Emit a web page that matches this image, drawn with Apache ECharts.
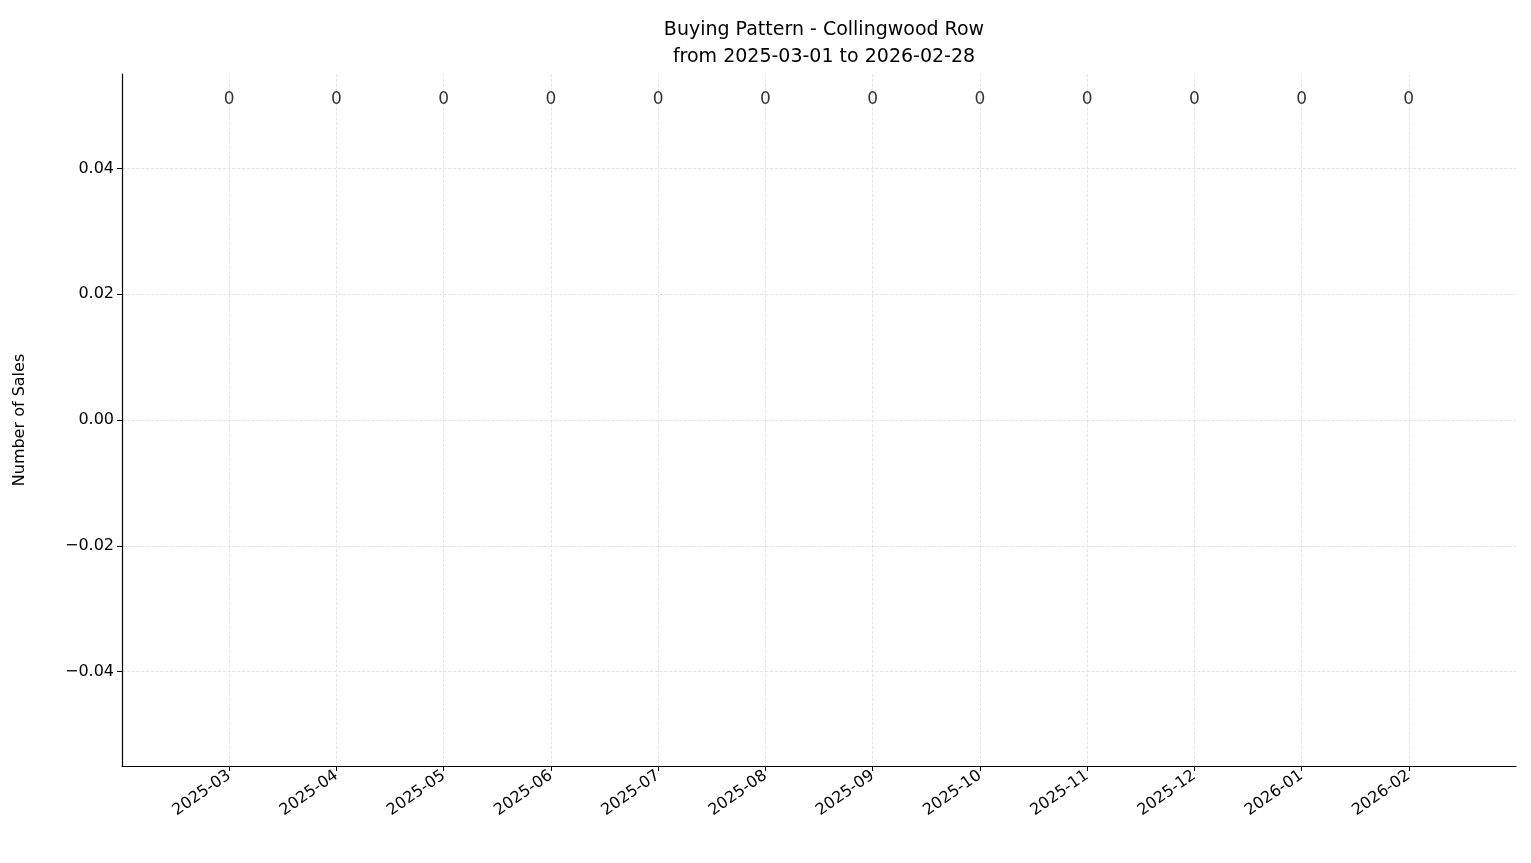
<!DOCTYPE html>
<html>
<head>
<meta charset="utf-8">
<script src="https://cdn.jsdelivr.net/npm/echarts@6/dist/echarts.min.js"></script>
<style>
  html, body { margin: 0; padding: 0; background: #fff; }
  #chart { width: 1531px; height: 863px; }
</style>
</head>
<body>
<div id="chart"></div>
<script>
const months = ['2025-03', '2025-04', '2025-05', '2025-06', '2025-07', '2025-08',
                '2025-09', '2025-10', '2025-11', '2025-12', '2026-01', '2026-02'];
const sales = [0, 0, 0, 0, 0, 0, 0, 0, 0, 0, 0, 0];
const yTicks = [-0.04, -0.02, 0, 0.02, 0.04];
const labelY = 0.051;

// pad with blank categories so the months sit one step in from each edge
const cats = [''].concat(months, ['']);
const inner = (i) => i > 0 && i < cats.length - 1;

const chart = echarts.init(document.getElementById('chart'));
const font = 'DejaVu Sans';

chart.setOption({
  animation: false,
  title: {
    text: 'Buying Pattern - Collingwood Row\nfrom 2025-03-01 to 2026-02-28',
    left: 819, top: 12, textAlign: 'center',
    textStyle: { fontFamily: font, fontSize: 19, fontWeight: 'normal', color: '#000', lineHeight: 27 }
  },
  grid: { left: 122, right: 15, top: 74, bottom: 97 },
  xAxis: {
    type: 'category', data: cats, boundaryGap: false,
    axisLine: { onZero: false, lineStyle: { color: '#000', width: 1.2 } },
    axisTick: { interval: (i) => inner(i), length: 5, lineStyle: { color: '#000' } },
    axisLabel: { interval: (i) => inner(i), rotate: 35, fontFamily: font, fontSize: 16, color: '#000', margin: 8 },
    splitLine: { show: true, interval: (i) => inner(i), lineStyle: { color: '#ddd', type: 'dashed', width: 0.8 } }
  },
  yAxis: {
    type: 'value', min: -0.055, max: 0.055,
    name: 'Number of Sales', nameLocation: 'middle', nameGap: 94,
    nameTextStyle: { fontFamily: font, fontSize: 16, color: '#000' },
    axisLine: { show: true, lineStyle: { color: '#000', width: 1.2 } },
    axisTick: { show: true, customValues: yTicks, length: 5, lineStyle: { color: '#000' } },
    axisLabel: { customValues: yTicks, fontFamily: font, fontSize: 16, color: '#000', margin: 8,
      formatter: (v) => v.toFixed(2).replace('-', '\u2212') },
    splitLine: { show: true, lineStyle: { color: '#ddd', type: 'dashed', width: 0.8 } }
  },
  series: [
    {
      type: 'bar', data: sales.map((v, i) => [months[i], v]), barWidth: 86,
      itemStyle: { color: '#1f77b4' }
    },
    {
      type: 'scatter', symbolSize: 0,
      data: sales.map((v, i) => ({ value: [months[i], labelY], count: v })),
      label: { show: true, position: 'inside', fontFamily: font, fontSize: 17, color: '#000',
        textBorderWidth: 0, formatter: (p) => String(p.data.count) }
    }
  ]
});
</script>
</body>
</html>
